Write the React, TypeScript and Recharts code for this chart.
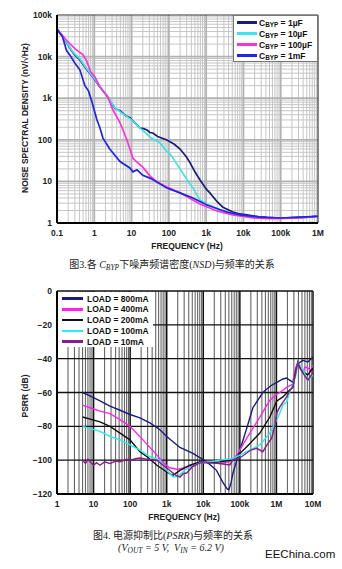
import React from 'react';
import { LineChart, Line, XAxis, YAxis, ReferenceLine } from 'recharts';

// ---- Figure 3: noise spectral density ----
const nsdXTicks = [0.1, 1, 10, 100, 1000, 10000, 100000, 1000000];
const nsdXLabels = ['0.1', '1', '10', '100', '1k', '10k', '100k', '1M'];
const nsdYTicks = [1, 10, 100, 1000, 10000, 100000];
const nsdYLabels = ['1', '10', '100', '1k', '10k', '100k'];
const nsdCaps = ['1µF', '10µF', '100µF', '1mF'];
const nsdColors = ['#1c1c7c', '#3ae6ea', '#ff30dc', '#2323e6'];

const nsd1uF = [
  { f: 0.1, v: 45000 }, { f: 0.145, v: 29600 }, { f: 0.27, v: 12200 }, { f: 0.41, v: 8300 },
  { f: 0.64, v: 4800 }, { f: 0.92, v: 3200 }, { f: 1.42, v: 1860 }, { f: 2.3, v: 1070 },
  { f: 3.6, v: 560 }, { f: 4.9, v: 500 }, { f: 7, v: 380 }, { f: 9, v: 340 }, { f: 12, v: 260 },
  { f: 16.8, v: 192 }, { f: 21, v: 185 }, { f: 26, v: 172 }, { f: 31, v: 150 }, { f: 37, v: 146 },
  { f: 50, v: 120 }, { f: 89, v: 99 }, { f: 140, v: 78 }, { f: 200, v: 60 }, { f: 300, v: 38 },
  { f: 370, v: 28 }, { f: 500, v: 17 }, { f: 680, v: 11 }, { f: 1000, v: 6.6 }, { f: 1260, v: 5.3 },
  { f: 2000, v: 3.2 }, { f: 2820, v: 2.4 }, { f: 5200, v: 1.84 }, { f: 8000, v: 1.65 },
  { f: 12400, v: 1.56 }, { f: 25000, v: 1.42 }, { f: 42600, v: 1.37 }, { f: 100000, v: 1.32 },
  { f: 150000, v: 1.33 }, { f: 330000, v: 1.36 }, { f: 600000, v: 1.38 }, { f: 1000000, v: 1.48 },
];
const nsd10uF = [
  { f: 0.1, v: 46000 }, { f: 0.145, v: 30000 }, { f: 0.27, v: 12800 }, { f: 0.41, v: 8800 },
  { f: 0.64, v: 5000 }, { f: 0.92, v: 3300 }, { f: 1.42, v: 1900 }, { f: 2.3, v: 1100 },
  { f: 3.6, v: 580 }, { f: 5, v: 470 }, { f: 7.5, v: 360 }, { f: 10, v: 300 }, { f: 16.8, v: 192 },
  { f: 25, v: 140 }, { f: 31, v: 117 }, { f: 45, v: 95 }, { f: 57.7, v: 84 }, { f: 89, v: 52 },
  { f: 110, v: 45 }, { f: 200, v: 20 }, { f: 306, v: 11 }, { f: 443, v: 6.9 }, { f: 682, v: 3.6 },
  { f: 1050, v: 2.85 }, { f: 2340, v: 2.06 }, { f: 5230, v: 1.64 }, { f: 18000, v: 1.39 },
  { f: 42600, v: 1.32 }, { f: 115000, v: 1.3 }, { f: 327000, v: 1.33 }, { f: 1000000, v: 1.47 },
];
const nsd100uF = [
  { f: 0.1, v: 46000 }, { f: 0.185, v: 24000 }, { f: 0.3, v: 15500 }, { f: 0.5, v: 11000 },
  { f: 0.62, v: 8000 }, { f: 0.8, v: 4300 }, { f: 1.05, v: 3200 }, { f: 1.42, v: 1860 },
  { f: 2.3, v: 1070 }, { f: 3.17, v: 520 }, { f: 4.9, v: 254 }, { f: 5.9, v: 172 }, { f: 7.5, v: 99 },
  { f: 9, v: 60 }, { f: 10.9, v: 36 }, { f: 14, v: 29 }, { f: 20, v: 22 }, { f: 31, v: 13.6 },
  { f: 48, v: 9.7 }, { f: 89, v: 7.3 }, { f: 200, v: 5.3 }, { f: 680, v: 2.85 }, { f: 1950, v: 1.95 },
  { f: 5200, v: 1.56 }, { f: 18000, v: 1.32 }, { f: 50000, v: 1.28 }, { f: 115000, v: 1.29 },
  { f: 400000, v: 1.35 }, { f: 1000000, v: 1.47 },
];
const nsd1mF = [
  { f: 0.1, v: 46000 }, { f: 0.14, v: 30000 }, { f: 0.18, v: 14000 }, { f: 0.22, v: 11000 },
  { f: 0.3, v: 7000 }, { f: 0.41, v: 4800 }, { f: 0.56, v: 2000 }, { f: 0.7, v: 1500 },
  { f: 0.87, v: 800 }, { f: 1.18, v: 300 }, { f: 1.42, v: 192 }, { f: 1.71, v: 110 },
  { f: 2.6, v: 60 }, { f: 4.9, v: 30 }, { f: 9, v: 21 }, { f: 10.9, v: 17 }, { f: 14, v: 19 },
  { f: 20, v: 14 }, { f: 31, v: 12 }, { f: 48, v: 9.7 }, { f: 89, v: 6.9 }, { f: 199, v: 5.3 },
  { f: 443, v: 4.0 }, { f: 1050, v: 2.7 }, { f: 3600, v: 1.84 }, { f: 8000, v: 1.56 },
  { f: 27700, v: 1.39 }, { f: 95000, v: 1.32 }, { f: 327000, v: 1.39 }, { f: 1000000, v: 1.45 },
];
const nsdSeries = [nsd1uF, nsd10uF, nsd100uF, nsd1mF];

// ---- Figure 4: PSRR ----
const psrrXTicks = [1, 10, 100, 1000, 10000, 100000, 1000000, 10000000];
const psrrXLabels = ['1', '10', '100', '1k', '10k', '100k', '1M', '10M'];
const psrrYTicks = [0, -20, -40, -60, -80, -100, -120];
const psrrYLabels = ['0', '−20', '−40', '−60', '−80', '−100', '−120'];
const psrrLoads = ['800mA', '400mA', '200mA', '100mA', '10mA'];
const psrrColors = ['#1b1b82', '#ff22ee', '#111111', '#22eeee', '#8a1a8a'];

const psrr800 = [
  { f: 5, v: -60 }, { f: 8, v: -62 }, { f: 15, v: -65 }, { f: 28, v: -68 }, { f: 53, v: -70.5 },
  { f: 99, v: -73 }, { f: 185, v: -75 }, { f: 348, v: -78 }, { f: 652, v: -82 }, { f: 1000, v: -86 },
  { f: 2300, v: -92.5 }, { f: 5200, v: -96 }, { f: 12500, v: -101 }, { f: 23000, v: -106 },
  { f: 34000, v: -113 }, { f: 45000, v: -117 }, { f: 50000, v: -117.5 }, { f: 58000, v: -113 },
  { f: 64000, v: -108 }, { f: 88000, v: -98 }, { f: 155000, v: -81 }, { f: 227000, v: -69 },
  { f: 425000, v: -60 }, { f: 700000, v: -56 }, { f: 1030000, v: -54 }, { f: 1500000, v: -52 },
  { f: 1900000, v: -51.5 }, { f: 2800000, v: -54 }, { f: 3500000, v: -45 }, { f: 3850000, v: -43 },
  { f: 5300000, v: -41 }, { f: 7200000, v: -42 }, { f: 10000000, v: -39 },
];
const psrr400 = [
  { f: 5, v: -67.5 }, { f: 8, v: -69 }, { f: 15, v: -71 }, { f: 28, v: -72.5 }, { f: 53, v: -76 },
  { f: 99, v: -80 }, { f: 224, v: -88 }, { f: 540, v: -97 }, { f: 800, v: -101.5 }, { f: 1200, v: -104.5 },
  { f: 2000, v: -105.5 }, { f: 3000, v: -104.5 }, { f: 5000, v: -103 }, { f: 8000, v: -101.5 },
  { f: 15000, v: -101 }, { f: 28000, v: -102 }, { f: 50000, v: -101 }, { f: 70000, v: -99 },
  { f: 88000, v: -96 }, { f: 155000, v: -87 }, { f: 352000, v: -74.5 }, { f: 660000, v: -64.5 },
  { f: 1030000, v: -61 }, { f: 1240000, v: -60 }, { f: 1900000, v: -57 }, { f: 2800000, v: -55 },
  { f: 3400000, v: -45 }, { f: 3850000, v: -42.5 }, { f: 4500000, v: -46 }, { f: 5300000, v: -48 },
  { f: 6000000, v: -45 }, { f: 7200000, v: -45.5 }, { f: 8500000, v: -47 }, { f: 10000000, v: -44 },
];
const psrr200 = [
  { f: 5, v: -74.5 }, { f: 15, v: -77.4 }, { f: 28, v: -80 }, { f: 53, v: -84 }, { f: 99, v: -88 },
  { f: 185, v: -95 }, { f: 290, v: -98 }, { f: 540, v: -103 }, { f: 1000, v: -107 }, { f: 1470, v: -109 },
  { f: 2300, v: -106 }, { f: 4300, v: -103 }, { f: 8000, v: -101 }, { f: 15000, v: -101.5 },
  { f: 28000, v: -101 }, { f: 64000, v: -100 }, { f: 155000, v: -92 }, { f: 352000, v: -84 },
  { f: 660000, v: -74.5 }, { f: 1030000, v: -65 }, { f: 1500000, v: -62.6 }, { f: 2300000, v: -58.5 },
  { f: 2800000, v: -57 }, { f: 3400000, v: -47 }, { f: 3850000, v: -42.5 }, { f: 5300000, v: -48 },
  { f: 7200000, v: -49.6 }, { f: 10000000, v: -45.5 },
];
const psrr100 = [
  { f: 5, v: -80 }, { f: 15, v: -83 }, { f: 28, v: -86 }, { f: 53, v: -88 }, { f: 99, v: -91 },
  { f: 185, v: -94 }, { f: 348, v: -98 }, { f: 650, v: -100 }, { f: 1000, v: -106 }, { f: 1500, v: -110 },
  { f: 2000, v: -109.5 }, { f: 3140, v: -105.8 }, { f: 8000, v: -101.6 }, { f: 15000, v: -101 },
  { f: 28000, v: -100 }, { f: 64000, v: -99 }, { f: 155000, v: -95 }, { f: 352000, v: -91 },
  { f: 660000, v: -84 }, { f: 1030000, v: -76 }, { f: 1240000, v: -72 }, { f: 1500000, v: -67.4 },
  { f: 1900000, v: -65.6 }, { f: 2300000, v: -60 }, { f: 3400000, v: -50 }, { f: 3850000, v: -42 },
  { f: 5300000, v: -46.7 }, { f: 7200000, v: -52.6 }, { f: 10000000, v: -49.6 },
];
const psrr10 = [
  { f: 5, v: -100 }, { f: 6, v: -102 }, { f: 7, v: -99.5 }, { f: 8, v: -101 }, { f: 10, v: -103 },
  { f: 12, v: -101.5 }, { f: 15, v: -103 }, { f: 20, v: -101 }, { f: 28, v: -102 }, { f: 40, v: -100.5 },
  { f: 53, v: -101 }, { f: 80, v: -99.5 }, { f: 99, v: -100 }, { f: 150, v: -99 }, { f: 185, v: -98.7 },
  { f: 300, v: -99.5 }, { f: 540, v: -100 }, { f: 800, v: -103 }, { f: 1200, v: -106 },
  { f: 1700, v: -108.7 }, { f: 2300, v: -110 }, { f: 2800, v: -108 }, { f: 3500, v: -107.6 },
  { f: 5000, v: -104 }, { f: 8000, v: -101.6 }, { f: 15000, v: -101.6 }, { f: 28000, v: -102 },
  { f: 53000, v: -102.8 }, { f: 64000, v: -100 }, { f: 100000, v: -98.7 }, { f: 200000, v: -94 },
  { f: 290000, v: -93 }, { f: 425000, v: -95 }, { f: 550000, v: -91 }, { f: 740000, v: -87 },
  { f: 900000, v: -80 }, { f: 1030000, v: -72 }, { f: 1240000, v: -68.5 }, { f: 1900000, v: -62.6 },
  { f: 2300000, v: -59 }, { f: 2800000, v: -56.7 }, { f: 3400000, v: -48 }, { f: 3850000, v: -42 },
  { f: 4500000, v: -46 }, { f: 5300000, v: -48.5 }, { f: 7200000, v: -52.6 }, { f: 10000000, v: -48.5 },
];
const psrrSeries = [psrr800, psrr400, psrr200, psrr100, psrr10];

// log grid helpers
const minorLines = (start: number, end: number) => {
  const out: number[] = [];
  for (let d = start; d < end; d *= 10) {
    for (let m = 2; m <= 9; m++) out.push(d * m);
  }
  return out;
};

const sans = "'Liberation Sans', Arial, sans-serif";
const serif = "'Liberation Serif', 'Noto Sans CJK SC', serif";
const tickStyle = { fontSize: 8.5, fontWeight: 700, fill: '#222', fontFamily: sans };
const labelOf = (ticks: number[], labels: string[]) => (v: number) => {
  const i = ticks.findIndex(t => Math.abs(t - v) < Math.abs(t) * 1e-6 + 1e-9);
  return i >= 0 ? labels[i] : '';
};

const Sub = ({ children }: { children: React.ReactNode }) => (
  <span style={{ fontSize: '0.75em', position: 'relative', top: '0.25em', lineHeight: 0 }}>{children}</span>
);

const caption: React.CSSProperties = {
  position: 'absolute', transform: 'translateX(-50%)', whiteSpace: 'nowrap',
  fontSize: 10, lineHeight: '10px', color: '#222', fontFamily: serif,
};

export default function App() {
  return (
    <div style={{ position: 'absolute', left: 0, top: 0, width: 342, height: 569, background: '#fff', fontFamily: sans }}>
      {/* Figure 3 */}
      <div style={{ position: 'absolute', left: 0, top: 0 }}>
        <LineChart width={342} height={251} margin={{ top: 15, right: 24, left: 0, bottom: 0 }}>
          <XAxis
            dataKey="f" type="number" scale="log" domain={[0.1, 1000000]} allowDataOverflow
            ticks={nsdXTicks} interval={0} tickFormatter={labelOf(nsdXTicks, nsdXLabels)}
            tick={tickStyle} tickLine={false} tickSize={6} tickMargin={1} height={28}
            axisLine={{ stroke: '#000', strokeWidth: 2 }}
          />
          <YAxis
            dataKey="v" type="number" scale="log" domain={[1, 100000]} allowDataOverflow
            ticks={nsdYTicks} interval={0} tickFormatter={labelOf(nsdYTicks, nsdYLabels)}
            tick={tickStyle} tickLine={false} tickSize={4} tickMargin={1} width={57}
            axisLine={{ stroke: '#000', strokeWidth: 2 }}
          />
          {minorLines(0.1, 1000000).map(v => (
            <ReferenceLine key={'vx' + v} x={v} stroke="#c6c6c6" strokeWidth={1} />
          ))}
          {minorLines(1, 100000).map(v => (
            <ReferenceLine key={'hy' + v} y={v} stroke="#c6c6c6" strokeWidth={1} />
          ))}
          {nsdXTicks.slice(1, -1).map(v => (
            <ReferenceLine key={'VX' + v} x={v} stroke="#b2b2b2" strokeWidth={1.8} />
          ))}
          {nsdYTicks.slice(1, -1).map(v => (
            <ReferenceLine key={'HY' + v} y={v} stroke="#b2b2b2" strokeWidth={1.8} />
          ))}
          <ReferenceLine y={100000} stroke="#333" strokeWidth={1.2} />
          <ReferenceLine x={1000000} stroke="#333" strokeWidth={1.2} />
          {nsdSeries.map((s, i) => (
            <Line key={nsdCaps[i]} data={s} dataKey="v" stroke={nsdColors[i]} strokeWidth={1.7}
              dot={false} isAnimationActive={false} />
          ))}
        </LineChart>
      </div>
      <div style={{ position: 'absolute', left: 233, top: 15, width: 85, height: 47, background: '#fff', border: '1px solid #777', boxSizing: 'border-box' }}>
        {nsdCaps.map((c, i) => (
          <div key={c} style={{ position: 'absolute', left: 3, top: 1 + i * 11, height: 11, display: 'flex', alignItems: 'center', whiteSpace: 'nowrap' }}>
            <div style={{ width: 20, height: 2.5, background: nsdColors[i], marginRight: 2 }} />
            <span style={{ fontSize: 8.5, fontWeight: 700, color: '#111' }}>C<Sub>BYP</Sub> = {c}</span>
          </div>
        ))}
      </div>
      <div style={{ position: 'absolute', left: 25, top: 118, transform: 'translate(-50%, -50%) rotate(-90deg)', whiteSpace: 'nowrap', fontSize: 8.5, fontWeight: 700, color: '#222' }}>
        NOISE SPECTRAL DENSITY (nV/√Hz)
      </div>
      <div style={{ position: 'absolute', left: 187, top: 241, transform: 'translateX(-50%)', whiteSpace: 'nowrap', fontSize: 8.5, fontWeight: 700, color: '#222' }}>
        FREQUENCY (Hz)
      </div>
      <div style={{ ...caption, left: 172, top: 260 }}>
        图3.各 <i>C<Sub>BYP</Sub></i>下噪声频谱密度(<i>NSD</i>)与频率的关系
      </div>

      {/* Figure 4 */}
      <div style={{ position: 'absolute', left: 0, top: 280 }}>
        <LineChart width={342} height={242} margin={{ top: 11, right: 29, left: 0, bottom: 0 }}>
          <XAxis
            dataKey="f" type="number" scale="log" domain={[1, 10000000]} allowDataOverflow
            ticks={psrrXTicks} interval={0} tickFormatter={labelOf(psrrXTicks, psrrXLabels)}
            tick={tickStyle} tickLine={false} tickSize={6} tickMargin={1} height={28}
            axisLine={{ stroke: '#000', strokeWidth: 2 }}
          />
          <YAxis
            dataKey="v" type="number" domain={[-120, 0]} allowDataOverflow
            ticks={psrrYTicks} interval={0} tickFormatter={labelOf(psrrYTicks, psrrYLabels)}
            tick={tickStyle} tickLine={false} tickSize={4} tickMargin={1} width={57}
            axisLine={{ stroke: '#000', strokeWidth: 2 }}
          />
          {minorLines(1, 10000000).map(v => (
            <ReferenceLine key={'vx' + v} x={v} stroke="#666" strokeWidth={1.1} />
          ))}
          {psrrXTicks.slice(1).map(v => (
            <ReferenceLine key={'VX' + v} x={v} stroke="#111" strokeWidth={1.5} />
          ))}
          {psrrYTicks.slice(0, -1).map(v => (
            <ReferenceLine key={'HY' + v} y={v} stroke="#111" strokeWidth={1.4} />
          ))}
          {psrrSeries.map((s, i) => (
            <Line key={psrrLoads[i]} data={s} dataKey="v" stroke={psrrColors[i]} strokeWidth={1.4}
              dot={false} isAnimationActive={false} />
          ))}
        </LineChart>
      </div>
      <div style={{ position: 'absolute', left: 58, top: 292, width: 95, height: 55, background: '#fff' }}>
        {psrrLoads.map((l, i) => (
          <div key={l} style={{ position: 'absolute', left: 4, top: 1 + i * 10.8, height: 11, display: 'flex', alignItems: 'center', whiteSpace: 'nowrap' }}>
            <div style={{ width: 21, height: 2.5, background: psrrColors[i], marginRight: 4 }} />
            <span style={{ fontSize: 8.5, fontWeight: 700, color: '#111' }}>LOAD = {l}</span>
          </div>
        ))}
      </div>
      <div style={{ position: 'absolute', left: 25, top: 396, transform: 'translate(-50%, -50%) rotate(-90deg)', whiteSpace: 'nowrap', fontSize: 8.5, fontWeight: 700, color: '#222' }}>
        PSRR (dB)
      </div>
      <div style={{ position: 'absolute', left: 184, top: 512, transform: 'translateX(-50%)', whiteSpace: 'nowrap', fontSize: 8.5, fontWeight: 700, color: '#222' }}>
        FREQUENCY (Hz)
      </div>
      <div style={{ ...caption, left: 173, top: 531 }}>
        图4. 电源抑制比(<i>PSRR</i>)与频率的关系
      </div>
      <div style={{ ...caption, left: 171, top: 543, fontStyle: 'italic' }}>
        (V<Sub>OUT</Sub> = 5 V,&nbsp; V<Sub>IN</Sub> = 6.2 V)
      </div>
      <div style={{ position: 'absolute', left: 265, top: 548, whiteSpace: 'nowrap', fontSize: 11.5, color: '#111', fontFamily: sans }}>
        EEChina.com
      </div>
    </div>
  );
}
